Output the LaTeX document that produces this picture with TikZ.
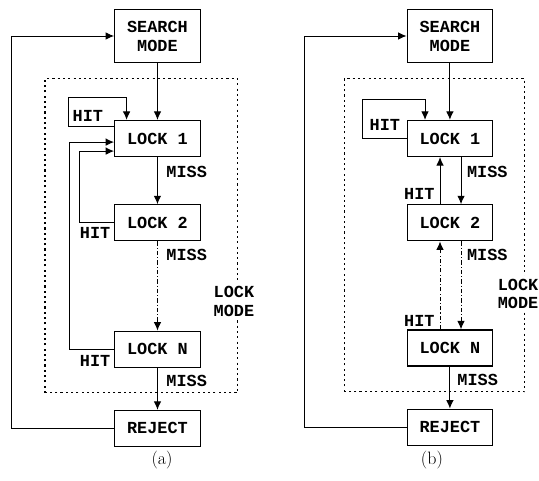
\documentclass[tikz,border=0pt]{standalone}
\usepackage{fontspec}
\setmonofont{Liberation Mono}
\usetikzlibrary{positioning,arrows.meta}
\newcommand{\diagfont}{\fontsize{16}{18}\selectfont\ttfamily\bfseries}

\begin{document}
\begin{tikzpicture}[
    lockbox/.style={rectangle,draw,line width=1.2pt,minimum width=2.85cm,minimum height=1.2cm,font=\diagfont},
    modebox/.style={rectangle,draw,line width=1.2pt,minimum width=2.85cm,minimum height=1.75cm,align=center,font=\diagfont},
    lbl/.style={font=\diagfont,inner sep=1pt},
    arrow/.style={-{Latex[length=2.8mm,width=2.5mm]},line width=0.9pt},
    skipline/.style={dash pattern=on 4pt off 2pt on 1pt off 2pt},
    lockmode/.style={line width=1pt,dash pattern=on 2pt off 3pt},
    caption/.style={font=\fontsize{17}{20}\selectfont}
]
\useasboundingbox (0,0) rectangle (17.97,16.03);

% (a) all hits go back to LOCK 1
\node[modebox] (search-a) at (5.25,14.83) {SEARCH\\MODE};
\node[lockbox,below=1.9cm of search-a] (lock1-a) {LOCK 1};
\node[lockbox,below=1.57cm of lock1-a] (lock2-a) {LOCK 2};
\node[lockbox,below=2.97cm of lock2-a] (lockn-a) {LOCK N};
\node[lockbox,below=1.4cm of lockn-a] (reject-a) {REJECT};

\draw[lockmode] (1.5,2.93) rectangle (7.93,13.4);
\node[lbl,fill=white,align=center,inner sep=3pt] (mode-a) at (7.8,5.97) {LOCK\\MODE};

\draw[arrow] (search-a) -- (lock1-a);
\coordinate (loop-a) at (2.27,12.77);
\draw[arrow] ([yshift=-0.23cm]lock1-a.north west) -| (loop-a) -| ([xshift=-1.03cm]lock1-a.north);
\node[lbl] (hit1-a) at (2.93,12.17) {HIT};

\draw[arrow] (lock1-a) -- node[lbl,pos=0.31,right=0.25cm] (miss1-a) {MISS} (lock2-a);
\draw[arrow,skipline] (lock2-a) -- node[lbl,pos=0.15,right=0.25cm] (miss2-a) {MISS} (lockn-a);
\draw[arrow] (lockn-a) -- node[lbl,pos=0.32,right=0.25cm] (missn-a) {MISS} (reject-a);

\draw[arrow] (lock2-a.west) -- ++(-1.17,0) |- ([yshift=-0.42cm]lock1-a.west);
\node[lbl] (hit2-a) at (3.17,8.27) {HIT};
\draw[arrow] (lockn-a.west) -- ++(-1.5,0) |- ([yshift=-0.12cm]lock1-a.west);
\node[lbl] (hitn-a) at (3.17,4.0) {HIT};

\draw[arrow] (reject-a.west) -- ++(-3.42,0) |- (search-a.west);
\node[caption] (cap-a) at (5.4,0.7) {(a)};

% (b) each hit goes back one lock
\node[modebox] (search-b) at (15.0,14.83) {SEARCH\\MODE};
\node[lockbox,below=1.9cm of search-b] (lock1-b) {LOCK 1};
\node[lockbox,below=1.57cm of lock1-b] (lock2-b) {LOCK 2};
\node[lockbox,below=2.93cm of lock2-b] (lockn-b) {LOCK N};
\node[lockbox,below=1.4cm of lockn-b] (reject-b) {REJECT};

\draw[lockmode] (11.47,2.97) rectangle (17.5,13.4);
\node[lbl,fill=white,align=center,inner sep=3pt] (mode-b) at (17.27,6.23) {LOCK\\MODE};

\draw[arrow] (search-b) -- (lock1-b);
\coordinate (loop-b) at (12.07,12.7);
\draw[arrow] (lock1-b.west) -| (loop-b) -| ([xshift=-0.83cm]lock1-b.north);
\node[lbl] (hit1-b) at (12.83,11.87) {HIT};

\draw[arrow] ([xshift=0.37cm]lock1-b.south) -- node[lbl,pos=0.31,right=0.15cm] (miss1-b) {MISS} ([xshift=0.37cm]lock2-b.north);
\draw[arrow] ([xshift=-0.33cm]lock2-b.north) -- node[lbl,pos=0.22,left=0.13cm] (hit2-b) {HIT} ([xshift=-0.33cm]lock1-b.south);
\draw[arrow,skipline] ([xshift=0.37cm]lock2-b.south) -- node[lbl,pos=0.15,right=0.15cm] (miss2-b) {MISS} ([xshift=0.37cm]lockn-b.north);
\draw[arrow,skipline] ([xshift=-0.33cm]lockn-b.north) -- node[lbl,pos=0.09,left=0.13cm] (hitn-b) {HIT} ([xshift=-0.33cm]lock2-b.south);
\draw[arrow] (lockn-b) -- node[lbl,pos=0.32,right=0.2cm] (missn-b) {MISS} (reject-b);

\draw[arrow] (reject-b.west) -- ++(-3.4,0) |- (search-b.west);
\node[caption] (cap-b) at (14.4,0.7) {(b)};

\end{tikzpicture}
\end{document}
